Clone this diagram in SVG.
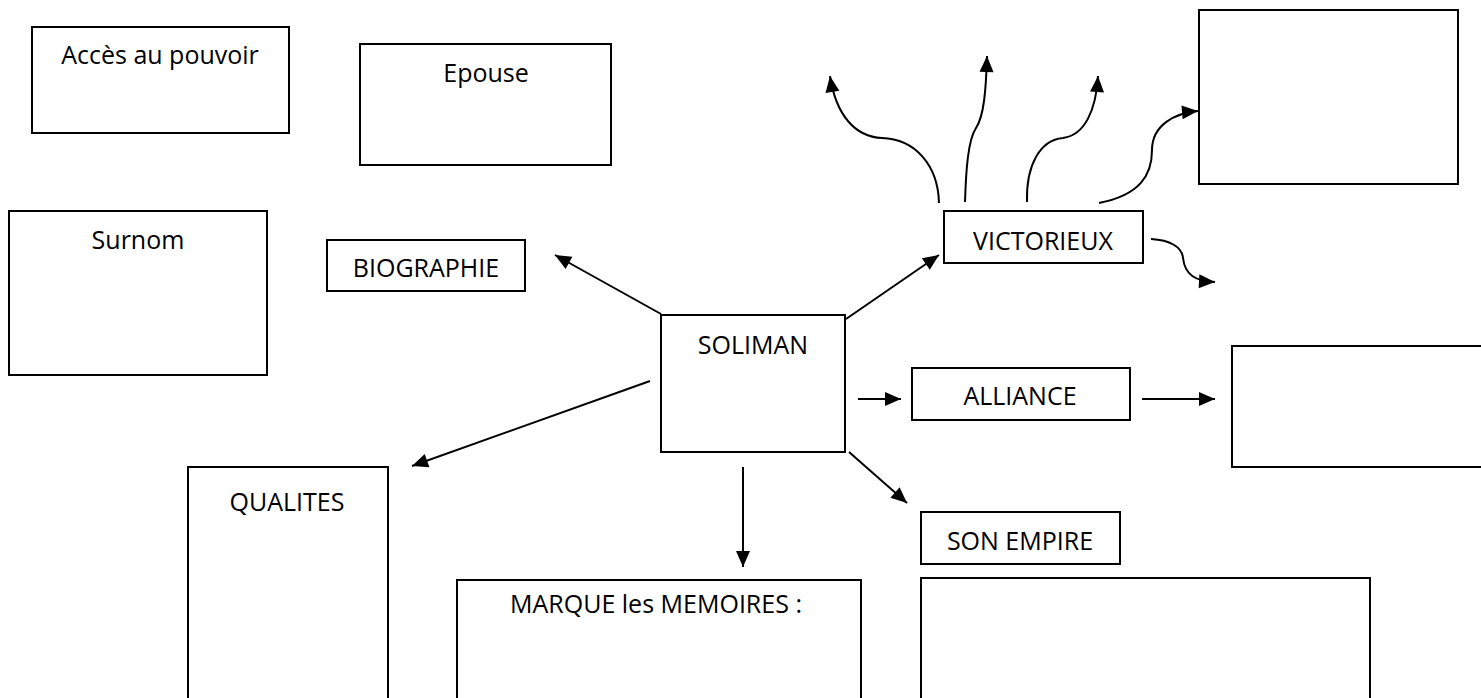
<svg xmlns="http://www.w3.org/2000/svg" width="1481" height="698" viewBox="0 0 1481 698">
<style>
.box{fill:#fff;stroke:#000;stroke-width:2}
.lbl{font-family:"Open Sans","Liberation Sans",sans-serif;font-size:25px;fill:#000;text-anchor:middle}
.con{fill:none;stroke:#000;stroke-width:2;marker-end:url(#ah)}
</style>
<defs>
<marker id="ah" markerUnits="userSpaceOnUse" markerWidth="17" markerHeight="15" refX="16" refY="7" orient="auto" overflow="visible">
<path d="M0,0 L16,7 L0,14 Z" fill="#000"/>
</marker>
</defs>
<rect width="1481" height="698" fill="#fff"/>
<g id="acces"><rect class="box" x="32" y="27" width="257" height="106"/><text class="lbl" x="160" y="64">Accès au pouvoir</text></g>
<g id="epouse"><rect class="box" x="360" y="44" width="251" height="121"/><text class="lbl" x="486" y="82">Epouse</text></g>
<g id="surnom"><rect class="box" x="9" y="211" width="258" height="164"/><text class="lbl" x="138" y="249">Surnom</text></g>
<g id="biographie"><rect class="box" x="327" y="240" width="198" height="51"/><text class="lbl" x="426" y="277">BIOGRAPHIE</text></g>
<g id="soliman"><rect class="box" x="661" y="315" width="184" height="137"/><text class="lbl" x="753" y="354">SOLIMAN</text></g>
<g id="victorieux"><rect class="box" x="944" y="211" width="199" height="52"/><text class="lbl" x="1043" y="250">VICTORIEUX</text></g>
<g id="vict-box"><rect class="box" x="1199" y="10" width="259" height="174"/></g>
<g id="alliance"><rect class="box" x="912" y="368" width="218" height="52"/><text class="lbl" x="1020" y="405">ALLIANCE</text></g>
<g id="alliance-box"><rect class="box" x="1232" y="346" width="260" height="121"/></g>
<g id="qualites"><rect class="box" x="188" y="467" width="200" height="240"/><text class="lbl" x="287" y="511">QUALITES</text></g>
<g id="empire"><rect class="box" x="921" y="512" width="199" height="52"/><text class="lbl" x="1020" y="550">SON EMPIRE</text></g>
<g id="marque"><rect class="box" x="457" y="580" width="404" height="130"/><text class="lbl" x="656" y="613">MARQUE les MEMOIRES :</text></g>
<g id="empire-box"><rect class="box" x="921" y="578" width="449" height="130"/></g>
<g id="connectors">
<path class="con" d="M661,314 L555,255"/>
<path class="con" d="M846,319 L939,255"/>
<path class="con" d="M650,381 L412,466"/>
<path class="con" d="M743,467 L743,567"/>
<path class="con" d="M849,452 L907,503"/>
<path class="con" d="M858,399 L901,399"/>
<path class="con" d="M1142,399 L1215,399"/>
<path class="con" d="M939,203 C938,165 915,139 882,138 C855,137 836,115 830,76"/>
<path class="con" d="M965,202 C966,170 968,140 976,128 C984,116 986,90 987,56"/>
<path class="con" d="M1027,202 C1026,165 1040,140 1063,138 C1085,135 1096,110 1098,76"/>
<path class="con" d="M1099,203 C1140,195 1152,175 1152,150 C1152,125 1175,113 1198,111"/>
<path class="con" d="M1151,239 C1170,240 1182,247 1183,258 C1185,275 1195,281 1215,282"/>
</g>
</svg>
